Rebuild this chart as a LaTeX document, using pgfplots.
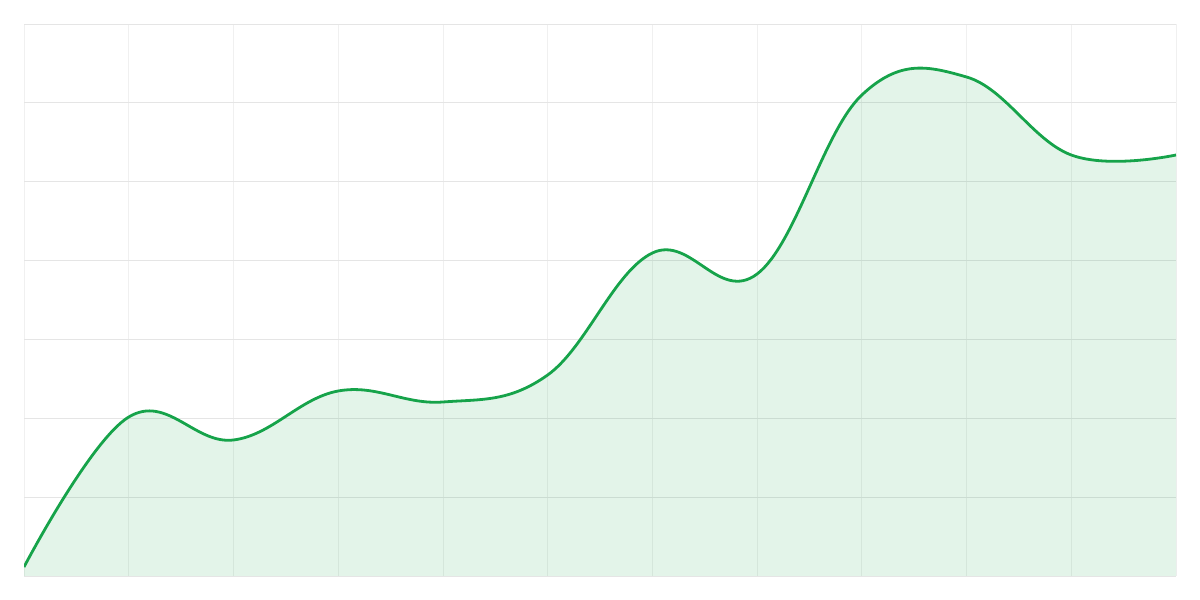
\documentclass[border=0pt]{standalone}
\usepackage{pgfplots}
\pgfplotsset{compat=1.18}

\definecolor{lineg}{RGB}{22,163,74}
\definecolor{hgrid}{RGB}{229,229,229}
\definecolor{vgrid}{RGB}{240,240,240}

% one point on each vertical grid line
\pgfplotstableread{
x y
24 9
128.73 159
233.45 136
338.18 185
442.91 174
547.64 201
652.36 323
757.09 302
861.82 481
966.55 499
1071.27 421
1176 421
}\series

\begin{document}
\begin{tikzpicture}
\path (0,0) rectangle (1200bp,600bp);
\begin{axis}[
  at={(24bp,24bp)}, anchor=south west,
  scale only axis,
  width=1152bp, height=552bp,
  xmin=24, xmax=1176, ymin=0, ymax=552,
  axis line style={draw=none},
  xtick={24,128.73,233.45,338.18,442.91,547.64,652.36,757.09,861.82,966.55,1071.27,1176},
  ytick={0,78.86,157.71,236.57,315.43,394.29,473.14,552},
  xticklabels={}, yticklabels={},
  major tick length=0pt,
  xmajorgrids=true, ymajorgrids=true,
  x grid style={vgrid, line width=0.8bp},
  y grid style={hgrid, line width=0.8bp},
]
\addplot[draw=none, fill=lineg, fill opacity=0.12, smooth, tension=0.66] table {\series} \closedcycle;
\addplot[lineg, line width=2.8bp, smooth, tension=0.66] table {\series};
\end{axis}
\end{tikzpicture}
\end{document}
